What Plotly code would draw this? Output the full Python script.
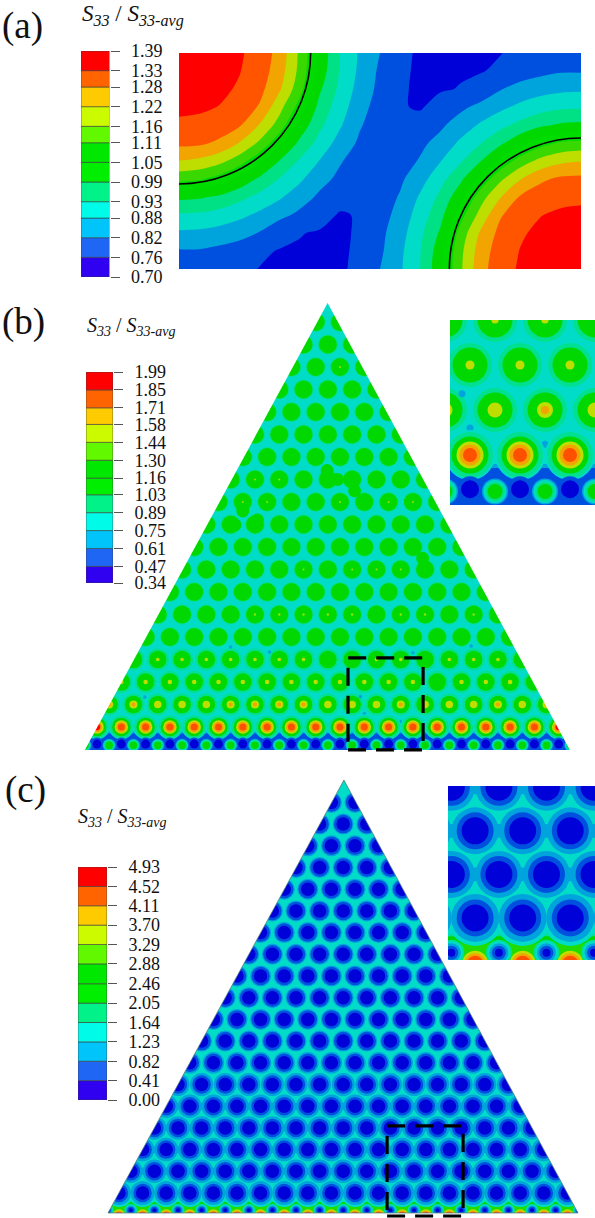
import plotly.graph_objects as go

W, H = 595, 1218
SERIF = "Liberation Serif"

# ---------- legend data ----------
labels_a = ["0.70","0.76","0.82","0.88","0.93","0.99","1.05","1.11","1.16","1.22","1.28","1.33","1.39"]
labels_b = ["0.34","0.47","0.61","0.75","0.89","1.03","1.16","1.30","1.44","1.58","1.71","1.85","1.99"]
labels_c = ["0.00","0.41","0.82","1.23","1.64","2.05","2.46","2.88","3.29","3.70","4.11","4.52","4.93"]
legend_colors = ["#3000f0","#1f66f5","#00c4fa","#00fce8","#00f288","#00ee00","#00e800",
                 "#62f800","#ccfb00","#fdcb00","#ff6400","#ff0000"]
field_colors = ["#0000d8","#0050e0","#00a4dc","#00dcc8","#00e084","#00d800","#00dc00",
                "#38d800","#bedd00","#f2a400","#ff5500","#ff0000"]

# ---------- panel (a): S33 ratio read on a 21 x 13 grid ----------
a_x = [0,20,40,60,80,100,120,140,160,180,200,220,240,260,280,300,320,340,360,380,400]
a_y = [0,18,36,54,72,90,108,126,144,162,180,198,216]
a_z = [
 [1.39,1.37,1.355,1.34,1.31,1.255,1.15,1.03,.93,.865,.815,.77,.75,.74,.745,.751,.757,.762,.77,.775,.777],
 [1.375,1.365,1.35,1.335,1.305,1.245,1.145,1.02,.927,.86,.805,.767,.749,.749,.752,.755,.765,.79,.80,.81,.81],
 [1.36,1.355,1.345,1.326,1.293,1.225,1.125,.996,.917,.85,.80,.764,.749,.752,.76,.775,.812,.833,.85,.86,.863],
 [1.345,1.342,1.331,1.308,1.27,1.18,1.08,.968,.90,.836,.79,.762,.752,.78,.803,.83,.86,.887,.907,.92,.923],
 [1.322,1.317,1.305,1.282,1.215,1.135,1.025,.943,.88,.82,.785,.765,.78,.805,.84,.88,.913,.947,.977,.995,1.00],
 [1.29,1.286,1.265,1.215,1.15,1.06,.975,.91,.85,.805,.77,.77,.803,.833,.883,.927,.977,1.03,1.08,1.11,1.12],
 [1.215,1.205,1.178,1.13,1.06,.985,.923,.87,.82,.79,.77,.79,.82,.87,.923,.985,1.06,1.13,1.178,1.205,1.215],
 [1.12,1.11,1.08,1.03,.977,.927,.883,.833,.803,.77,.77,.805,.85,.91,.975,1.06,1.15,1.215,1.265,1.286,1.29],
 [1.00,.995,.977,.947,.913,.88,.84,.805,.78,.765,.785,.82,.88,.943,1.025,1.135,1.215,1.282,1.305,1.317,1.322],
 [.923,.92,.907,.887,.86,.83,.803,.78,.752,.762,.79,.836,.90,.968,1.08,1.18,1.27,1.308,1.331,1.342,1.345],
 [.863,.86,.85,.833,.812,.775,.76,.752,.749,.764,.80,.85,.917,.996,1.125,1.225,1.293,1.326,1.345,1.355,1.36],
 [.81,.81,.80,.79,.765,.755,.752,.749,.749,.767,.805,.86,.927,1.02,1.145,1.245,1.305,1.335,1.35,1.365,1.375],
 [.777,.775,.77,.762,.757,.751,.745,.74,.75,.77,.815,.865,.93,1.03,1.15,1.255,1.31,1.34,1.355,1.37,1.39],
]
a_arc_radius = 131

# ---------- panel (b): lattice rows, counted upward from the hot row ----------
b_rows   = [0,1,2,3,4,5,6,7,8,9,10,11,12,13,14,15,16,17,18]
b_counts = [20,19,18,17,16,15,14,13,12,11,10,9,8,7,6,5,4,3,2]
b_row1_amber = [0,1,5,6,7,8,12,16,18]
b_row1_yg    = [2,3,4,9,10,11,13,14,15,17]
b_row2_yg    = [0,1,2,3,4,5,6,7,8,9,10,11,12,14,15,16]
b_row3_yg    = [1,2,3,4,5,6,7,10,11,13,14,15]
b_row5_tiny  = [4,5,6,7,8,10,11,13]
b_row7_tiny  = [5,7,8,9]
b_row10_tiny = [1,2,5,7,8]
b_row11_tiny = [1,2]
b_row16_tiny = [2]
b_blob_x = [9.47,10.6,13.4,5.68,6.0,6.6,9.9]
b_blob_k = [11.4,10.5,7.5,8.98,9.6,9.2,11.0]
b_speck_x = [11.0,12.5,10.84,1.97,7.1,5.5,15.4,13.0]
b_speck_k = [0.6,0.24,1.36,1.33,3.33,3.56,3.6,3.3]
b_triangle_x = [-0.5,9.49,19.46]
b_triangle_k = [-1.022,18.84,-1.022]

# ---------- panel (c) ----------
c_rows   = [0,1,2,3,4,5,6,7,8,9,10,11,12,13,14,15,16,17,18]
c_counts = [20,19,18,17,16,15,14,13,12,11,10,9,8,7,6,5,4,3,2]
c_halo_d = [24,23.5,23.5,23.5,23.5,23,21.5,21,21,21,21,21,21,21,21,21,21,21,21]
c_bridge_rows = [1,2,3,4]
c_triangle_x = [-0.466,9.53,19.45]
c_triangle_k = [-0.92,19.03,-0.92]

# ---------- page boxes (pixels) ----------
BOX = {
 "a":  (179, 53, 581, 269),
 "b":  (78, 296, 578, 758),
 "c":  (100, 773, 592, 1218),
 "bi": (450, 320, 595, 505),
 "ci": (448, 786, 595, 960),
 "la": (81, 51, 109.5, 277),
 "lb": (86, 372, 113, 583),
 "lc": (78, 867, 107, 1100),
}
AX = {"a":"","b":"2","c":"3","bi":"4","ci":"5","la":"6","lb":"7","lc":"8"}

fig = go.Figure()
layout_axes = {}

def set_axes(key, xrange, yrange, **yopts):
    x0, y0, x1, y1 = BOX[key]
    n = AX[key]
    layout_axes["xaxis"+n] = dict(domain=[x0/W, x1/W], range=xrange, visible=False, fixedrange=True,
                                  anchor="y"+n, automargin=False)
    base = dict(domain=[1-y1/H, 1-y0/H], range=yrange, visible=False, fixedrange=True, anchor="x"+n,
                automargin=False)
    base.update(yopts)
    layout_axes["yaxis"+n] = base

def tr(key):
    n = AX[key]
    return dict(xaxis="x"+n, yaxis="y"+n, hoverinfo="skip", showlegend=False)

def dots(key, xs, ys, d, color, scale):
    if xs:
        fig.add_trace(go.Scatter(x=xs, y=ys, mode="markers",
            marker=dict(size=d*scale, color=color, line=dict(width=0)), **tr(key)))

def poly(key, xs, ys, color, line=0):
    fig.add_trace(go.Scatter(x=xs, y=ys, mode="lines", fill="toself", fillcolor=color,
                             line=dict(width=line, color=color), **tr(key)))

def lattice(rows, counts, k_from, k_to=None):
    xs, ys = [], []
    for k, n in zip(rows, counts):
        if k < k_from or (k_to is not None and k > k_to):
            continue
        for j in range(n):
            xs.append(j + k/2); ys.append(k)
    return xs, ys

def picked(k, cols):
    return [c + k/2 for c in cols], [k]*len(cols)

# ---------- panel (a) drawing ----------
def stepped(colors):
    n = len(colors); out = []
    for i, c in enumerate(colors):
        out += [[i/n, c], [(i+1)/n, c]]
    return out

fig.add_trace(go.Contour(x=a_x, y=a_y, z=a_z, zmin=0.70, zmax=1.39,
    contours=dict(coloring="fill", start=0.7575, end=1.3325, size=0.0575, showlines=False),
    line=dict(width=0, smoothing=1), colorscale=stepped(field_colors), showscale=False, hoverinfo="skip"))
set_axes("a", [0, 400], [216, 0])
for cx, cy in ((0, 0), (400, 216)):
    fig.add_shape(type="circle", xref="x", yref="y", x0=cx-a_arc_radius, x1=cx+a_arc_radius,
                  y0=cy-a_arc_radius, y1=cy+a_arc_radius, line=dict(color="#000", width=1.6))

# ---------- lattice panels ----------
CY, GC, GR, YG, AM, OR, RD, SK, BL, DK = ("#00dcc8","#00e090","#00d800","#bedd00","#f2a400",
                                          "#ff5000","#ff0000","#00a4dc","#0050e0","#0000d8")

def draw_b(key, scale):
    X0, X1 = -3, 23
    poly(key, [X0,X1,X1,X0], [-3,-3,22,22], CY)
    poly(key, [X0,X1,X1,X0], [-3,-3,-0.2,-0.2], SK)
    poly(key, [X0,X1,X1,X0], [-3,-3,-0.29,-0.29], BL)
    # upper rows
    xs, ys = lattice(b_rows, b_counts, 4)
    dots(key, xs, ys, 20, GC, scale)
    dots(key, xs, ys, 18, GR, scale)
    xs, ys = lattice(b_rows, b_counts, 1, 3)
    dots(key, xs, ys, 22, GC, scale)
    dots(key, xs, ys, 17.5, GR, scale)
    dots(key, b_blob_x, b_blob_k, 13, GR, scale)
    dots(key, b_speck_x, b_speck_k, 3.5, SK, scale)
    # tiny cores
    for k, cols, d in ((5,b_row5_tiny,2.4),(7,b_row7_tiny,2),(10,b_row10_tiny,2),
                       (11,b_row11_tiny,2),(16,b_row16_tiny,2)):
        x, y = picked(k, cols); dots(key, x, y, d, "#9ae000", scale)
    x, y = picked(3, b_row3_yg); dots(key, x, y, 3.6, YG, scale)
    x, y = picked(2, b_row2_yg); dots(key, x, y, 4.5, YG, scale)
    x, y = picked(1, b_row1_yg); dots(key, x, y, 7.5, YG, scale)
    x, y = picked(1, b_row1_amber); dots(key, x, y, 8, YG, scale); dots(key, x, y, 4, AM, scale)
    # hot row
    xs, ys = lattice(b_rows, b_counts, 0, 0)
    dots(key, xs, ys, 25, CY, scale)
    dots(key, xs, ys, 23, GC, scale)
    dots(key, xs, ys, 18.5, GR, scale)
    dots(key, xs, ys, 13.5, YG, scale)
    dots(key, xs, ys, 10.5, AM, scale)
    dots(key, xs, ys, 7, OR, scale)
    dots(key, [0,19], [0,0], 6, RD, scale)
    # bottom row
    ky = -0.76
    gx = [j-0.5 for j in range(21)]
    dots(key, xs, [ky]*len(xs), 13, BL, scale)
    dots(key, xs, [ky]*len(xs), 9, DK, scale)
    dots(key, gx, [ky-0.05]*len(gx), 13, SK, scale)
    dots(key, gx, [ky-0.05]*len(gx), 11.5, CY, scale)
    dots(key, gx, [ky-0.05]*len(gx), 10, GC, scale)
    dots(key, gx, [ky-0.05]*len(gx), 7.5, GR, scale)

def draw_c(key, scale):
    X0, X1 = -3, 23
    poly(key, [X0,X1,X1,X0], [-3,-3,22,22], CY)
    poly(key, [X0,X1,X1,X0], [-3,-3,-0.36,-0.36], GC)
    poly(key, [X0,X1,X1,X0], [-3,-3,-0.42,-0.42], GR)
    poly(key, [X0,X1,X1,X0], [-3,-3,-0.58,-0.58], "#20dc00")
    for k in c_bridge_rows:
        poly(key, [X0,X1,X1,X0], [k-0.16,k-0.16,k+0.16,k+0.16], SK)
    for k, n, h in zip(c_rows, c_counts, c_halo_d):
        xs = [j + k/2 for j in range(n)]
        ys = [k]*n
        if k == 0:
            dots(key, xs, ys, 28, CY, scale)
        dots(key, xs, ys, h, SK, scale)
    xs, ys = lattice(c_rows, c_counts, 0)
    dots(key, xs, ys, 18.5, BL, scale)
    dots(key, xs, ys, 13.5, DK, scale)
    # base row: hot spots under the dots, small wells between them
    xh = lattice(c_rows, c_counts, 0, 0)[0]
    kb = -1.05
    dots(key, xh, [kb]*len(xh), 13, YG, scale)
    dots(key, xh, [kb]*len(xh), 10.5, AM, scale)
    dots(key, xh, [kb]*len(xh), 8, OR, scale)
    gx = [j-0.5 for j in range(21)]
    kw = -0.8
    dots(key, gx, [kw]*len(gx), 13, GC, scale)
    dots(key, gx, [kw]*len(gx), 11.5, CY, scale)
    dots(key, gx, [kw]*len(gx), 9.5, SK, scale)
    dots(key, gx, [kw]*len(gx), 7, BL, scale)
    dots(key, gx, [kw]*len(gx), 4, DK, scale)

def mask(key, tx, tk, xr, kr):
    (bl, ax, br), (by, ay, _) = tx, tk
    xmin, xmax = xr[0]-2, xr[1]+2
    kbot, ktop = kr[0]-2, kr[1]+2
    poly(key, [xmin,ax+0.3,ax+0.3,ax,bl,xmin], [ktop,ktop,ay+0.6,ay,by,by], "#ffffff")
    poly(key, [xmax,ax-0.3,ax-0.3,ax,br,xmax], [ktop,ktop,ay+0.6,ay,by,by], "#ffffff")
    poly(key, [xmin,xmax,xmax,xmin], [by,by,kbot,kbot], "#ffffff")

# scales: px = origin + pitch*x ; py = origin - rowstep*k
def rng(key, ox, px, oy, py):
    x0, y0, x1, y1 = BOX[key]
    return [(x0-ox)/px, (x1-ox)/px], [(oy-y1)/py, (oy-y0)/py]

bxr, bkr = rng("b", 97, 24.3, 727, 22.5)
draw_b("b", 1)
mask("b", b_triangle_x, b_triangle_k, bxr, bkr)
set_axes("b", bxr, bkr)

cxr, ckr = rng("c", 119, 23.6, 1193, 21.7)
draw_c("c", 1)
mask("c", c_triangle_x, c_triangle_k, cxr, ckr)
fig.add_trace(go.Scatter(x=c_triangle_x+[c_triangle_x[0]], y=c_triangle_k+[c_triangle_k[0]], mode="lines",
                         line=dict(color="#4f7f80", width=0.8), **tr("c")))
set_axes("c", cxr, ckr)

draw_b("bi", 2)
set_axes("bi", [10.6, 13.5], [-1.11, 3.0])
draw_c("ci", 2)
set_axes("ci", [11.43, 14.52], [-0.966, 3.03])

# dashed boxes
fig.add_shape(type="rect", xref="x2", yref="y2", x0=10.33, x1=13.42, y0=-1.02, y1=3.07,
              line=dict(color="#000", width=3.2, dash="18px,10px"))
fig.add_shape(type="rect", xref="x3", yref="y3", x0=11.36, x1=14.58, y0=-1.06, y1=3.09,
              line=dict(color="#000", width=3.2, dash="18px,10px"))

# ---------- legends ----------
def legend(key, labels):
    lev = [float(v) for v in labels]
    fig.add_trace(go.Bar(x=[0]*12, y=[lev[i+1]-lev[i] for i in range(12)], base=lev[:-1], width=1,
        marker=dict(color=legend_colors, line=dict(color="#3a3a3a", width=0.6)), **tr(key)))
    set_axes(key, [-0.5, 0.5], [lev[0], lev[-1]])
    n = AX[key]
    layout_axes["yaxis"+n].update(visible=True, side="right", showgrid=False, zeroline=False, showline=False,
        tickmode="array", tickvals=lev, ticktext=labels, ticks="outside", ticklen=9, tickcolor="#555",
        tickwidth=1, ticklabelstandoff=8, tickfont=dict(family=SERIF, size=18, color="#111"))

legend("la", labels_a)
legend("lb", labels_b)
legend("lc", labels_c)

# ---------- text ----------
def text(px, py, s, size):
    fig.add_annotation(xref="paper", yref="paper", x=px/W, y=1-py/H, xanchor="left", yanchor="middle",
                       text=s, showarrow=False, font=dict(family=SERIF, size=size, color="#111"))

title = "<i>S<sub>33</sub></i> / <i>S<sub>33-avg</sub></i>"
text(0, 26, "(a)", 37)
text(0, 322, "(b)", 37)
text(3, 790, "(c)", 37)
text(80, 15, title, 23)
text(85, 327, title, 20)
text(76, 817, title, 20)

fig.update_layout(width=W, height=H, autosize=False, margin=dict(l=0, r=0, t=0, b=0, autoexpand=False),
                  paper_bgcolor="#fff", plot_bgcolor="rgba(0,0,0,0)", barmode="overlay",
                  showlegend=False, **layout_axes)
fig.write_html("out.html", post_script="document.body.style.margin='0';",
               config={"displayModeBar": False})
